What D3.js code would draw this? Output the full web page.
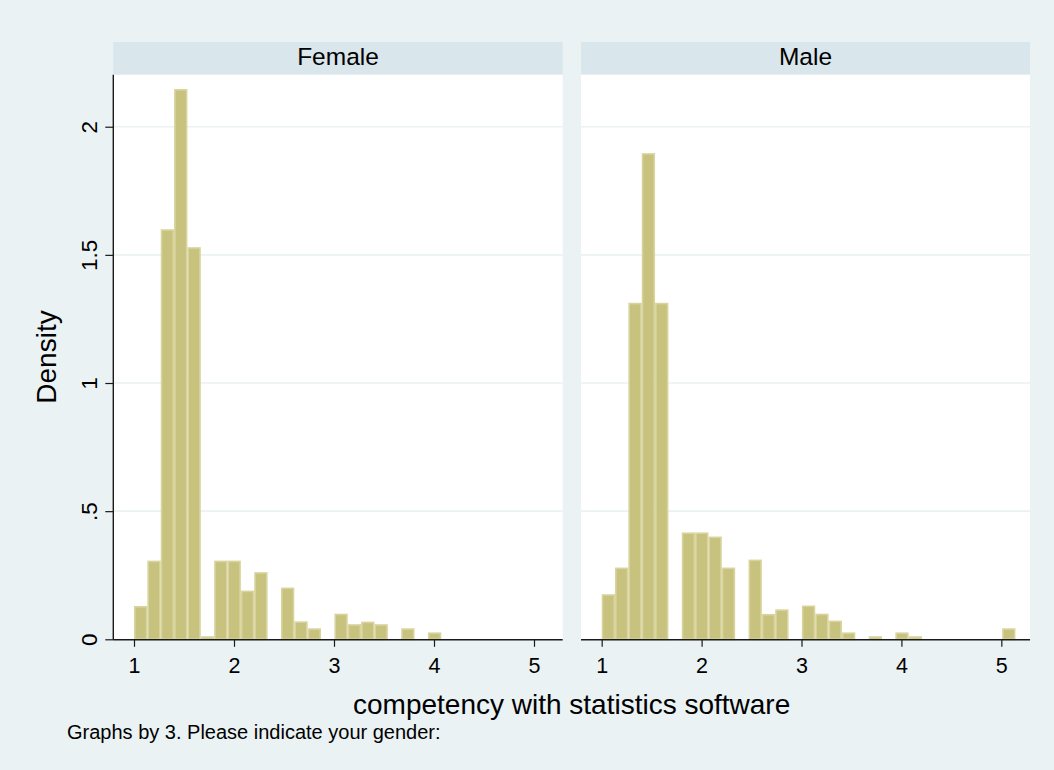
<!DOCTYPE html>
<html>
<head>
<meta charset="utf-8">
<script src="https://cdn.jsdelivr.net/npm/d3@7"></script>
<style>
  html, body { margin: 0; padding: 0; background: #EAF2F3; }
  svg { display: block; font-family: "Liberation Sans", Arial, sans-serif; }
</style>
</head>
<body>
<svg id="chart" width="1054" height="770"></svg>
<script>
// Histogram bins: common start and width for both panels
const binStart = 1;
const binWidth = 0.1336;

// Density per bin, by gender
const panels = ["Female", "Male"];
const femaleDensity = [0.13, 0.307, 1.6, 2.147, 1.53, 0.012, 0.307, 0.307, 0.19, 0.262,
  0, 0.202, 0.07, 0.043, 0, 0.10, 0.059, 0.069, 0.059, 0, 0.043, 0, 0.027];
const maleDensity = [0.176, 0.28, 1.313, 1.897, 1.313, 0, 0.417, 0.417, 0.401, 0.28,
  0, 0.311, 0.099, 0.117, 0, 0.132, 0.10, 0.073, 0.027, 0, 0.012, 0, 0.027, 0.012,
  0, 0, 0, 0, 0, 0, 0.043];

// Axis ticks and labels
const xTicks = [1, 2, 3, 4, 5];
const yTicks = [0, 0.5, 1, 1.5, 2];
const yTickLabels = ["0", ".5", "1", "1.5", "2"];
const xTitle = "competency with statistics software";
const yTitle = "Density";
const note = "Graphs by 3. Please indicate your gender:";

const densities = [femaleDensity, maleDensity];

const svg = d3.select("#chart");
const W = 1054, H = 770;

svg.append("rect").attr("width", W).attr("height", H).attr("fill", "#EAF2F3");

// Layout of the two panels
const plotTop = 74.7, plotBottom = 639.3;
const stripTop = 42;
const panelX = [[113.3, 562.7], [581, 1030]];

const y = d3.scaleLinear().domain([0, 2.203]).range([plotBottom, plotTop]);

const barFill = "#C8C27F";
const barStroke = "#D9D49E";
const axisColor = "#1a1a1a";

panels.forEach((name, p) => {
  const [x0, x1] = panelX[p];
  const x = d3.scaleLinear().domain([0.793, 5.287]).range([x0, x1]);
  const g = svg.append("g");

  // strip
  g.append("rect")
    .attr("x", x0).attr("y", stripTop)
    .attr("width", x1 - x0).attr("height", plotTop - stripTop)
    .attr("fill", "#D9E6EB");
  g.append("text")
    .attr("x", (x0 + x1) / 2).attr("y", 65)
    .attr("text-anchor", "middle")
    .attr("font-size", 24.5)
    .attr("fill", "#000")
    .text(name);

  // plot region
  g.append("rect")
    .attr("x", x0).attr("y", plotTop)
    .attr("width", x1 - x0).attr("height", plotBottom - plotTop)
    .attr("fill", "#fff");

  // gridlines
  g.append("g").selectAll("line")
    .data(yTicks.filter(d => d > 0))
    .join("line")
    .attr("x1", x0).attr("x2", x1)
    .attr("y1", d => y(d)).attr("y2", d => y(d))
    .attr("stroke", "#EAF2F3").attr("stroke-width", 1.6);

  // bars
  const bins = densities[p].map((v, i) => ({ lo: binStart + i * binWidth, hi: binStart + (i + 1) * binWidth, v }))
    .filter(d => d.v > 0);
  g.append("g").selectAll("rect")
    .data(bins)
    .join("rect")
    .attr("x", d => x(d.lo) + 0.8)
    .attr("width", d => x(d.hi) - x(d.lo) - 1.6)
    .attr("y", d => y(d.v) + 0.8)
    .attr("height", d => Math.max(0.5, y(0) - y(d.v) - 0.8))
    .attr("fill", barFill)
    .attr("stroke", barStroke)
    .attr("stroke-width", 1.6);

  // x axis
  const xAxis = d3.axisBottom(x).tickValues(xTicks).tickSize(7.5).tickPadding(6).tickFormat(d3.format("d"));
  const xa = g.append("g").attr("transform", `translate(0,${plotBottom})`).call(xAxis);
  xa.select(".domain").attr("d", `M${x0},0.5H${x1}`).attr("stroke", axisColor).attr("stroke-width", 1.4);
  xa.selectAll(".tick line").attr("stroke", axisColor).attr("stroke-width", 1.2);
  xa.selectAll(".tick text")
    .attr("font-size", 21.5)
    .attr("font-family", "Liberation Sans, Arial, sans-serif")
    .attr("fill", "#000")
    .attr("dy", null)
    .attr("y", 34);

  // y axis on the first panel only
  if (p === 0) {
    const yAxis = d3.axisLeft(y).tickValues(yTicks).tickSize(8).tickFormat((d, i) => yTickLabels[i]);
    const ya = g.append("g").attr("transform", `translate(${x0},0)`).call(yAxis);
    ya.select(".domain").attr("d", `M0,${plotTop}V${plotBottom + 0.5}`).attr("stroke", axisColor).attr("stroke-width", 1.4);
    ya.selectAll(".tick line").attr("stroke", axisColor).attr("stroke-width", 1.2);
    ya.selectAll(".tick text")
      .attr("font-size", 22.5)
      .attr("font-family", "Liberation Sans, Arial, sans-serif")
      .attr("fill", "#000")
      .attr("x", null).attr("dy", null)
      .attr("text-anchor", "middle")
      .attr("transform", "translate(-16.5,0) rotate(-90)");
  }
});

// axis titles and note
svg.append("text")
  .attr("x", (panelX[0][0] + panelX[1][1]) / 2).attr("y", 714)
  .attr("text-anchor", "middle")
  .attr("font-size", 28)
  .attr("fill", "#000")
  .text(xTitle);

svg.append("text")
  .attr("transform", `translate(56,${(plotTop + plotBottom) / 2}) rotate(-90)`)
  .attr("text-anchor", "middle")
  .attr("font-size", 28)
  .attr("fill", "#000")
  .text(yTitle);

svg.append("text")
  .attr("x", 67).attr("y", 739)
  .attr("font-size", 20)
  .attr("fill", "#000")
  .text(note);
</script>
</body>
</html>
